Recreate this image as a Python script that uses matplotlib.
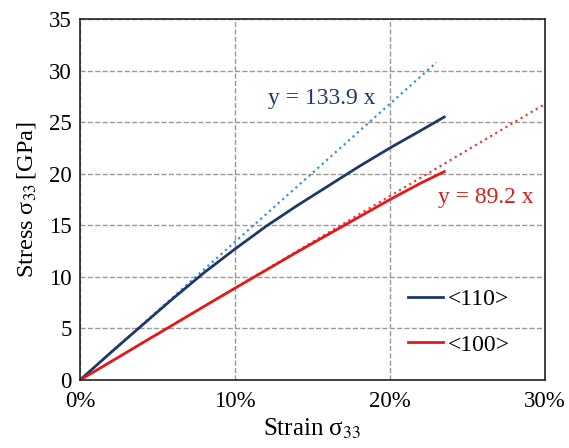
import numpy as np
import matplotlib
matplotlib.use('Agg')
from matplotlib import pyplot as plt

# strain (fraction) and stress (GPa)
strain = [0, 0.02, 0.04, 0.06, 0.08, 0.10, 0.12, 0.14, 0.16, 0.18, 0.20, 0.22, 0.235]
stress_110 = [0, 2.68, 5.3, 7.9, 10.4, 12.7, 14.9, 16.9, 18.8, 20.7, 22.5, 24.2, 25.5]
stress_100 = [0, 1.78, 3.57, 5.35, 7.13, 8.9, 10.65, 12.4, 14.1, 15.8, 17.5, 19.1, 20.2]

# linear fits
slope_110 = 133.9
slope_100 = 89.2
fit_110_x = [0, 0.23]
fit_100_x = [0, 0.30]

plt.rcParams['font.family'] = ['Liberation Serif', 'DejaVu Serif']
plt.rcParams['mathtext.fontset'] = 'stix'

fig = plt.figure(figsize=(5.69, 4.48), dpi=100)
ax = fig.add_axes([80 / 569, 68 / 448, 465 / 569, 361 / 448])

ax.plot(fit_110_x, [slope_110 * x for x in fit_110_x], ':', color='#3a8fd6', lw=1.6)
ax.plot(fit_100_x, [slope_100 * x for x in fit_100_x], ':', color='#f03a3a', lw=1.6)
ax.plot(strain, stress_110, '-', color='#1f3868', lw=2, label='<110>')
ax.plot(strain, stress_100, '-', color='#e21a1a', lw=2, label='<100>')

ax.text(0.121, 27.3, 'y = 133.9 x', color='#1f3868', fontsize=17, va='center')
ax.text(0.231, 17.7, 'y = 89.2 x', color='#d42020', fontsize=17, va='center')

ax.set_xlim(0, 0.30)
ax.set_ylim(0, 35)
ax.set_xticks([0, 0.1, 0.2, 0.3])
ax.set_xticklabels(['0%', '10%', '20%', '30%'])
ax.set_yticks(range(0, 36, 5))
ax.tick_params(length=0, labelsize=16.5)
ax.tick_params(axis='y', pad=6)
ax.tick_params(axis='x', pad=8)
ax.grid(True, ls='--', color='#999999', lw=1)
for s in ax.spines.values():
    s.set_color('#222222')
    s.set_linewidth(1.2)

ax.set_xlabel('Strain σ$_{33}$', fontsize=18, labelpad=3)
ax.set_ylabel('Stress σ$_{33}\\,$[GPa]', fontsize=17.5, labelpad=8)

ax.legend(loc='center left', bbox_to_anchor=(0.705, 0.16), frameon=False,
          fontsize=17, handlelength=1.5, handletextpad=0.2, labelspacing=1.0,
          borderpad=0, borderaxespad=0)

fig.savefig('out.png', dpi=100)
